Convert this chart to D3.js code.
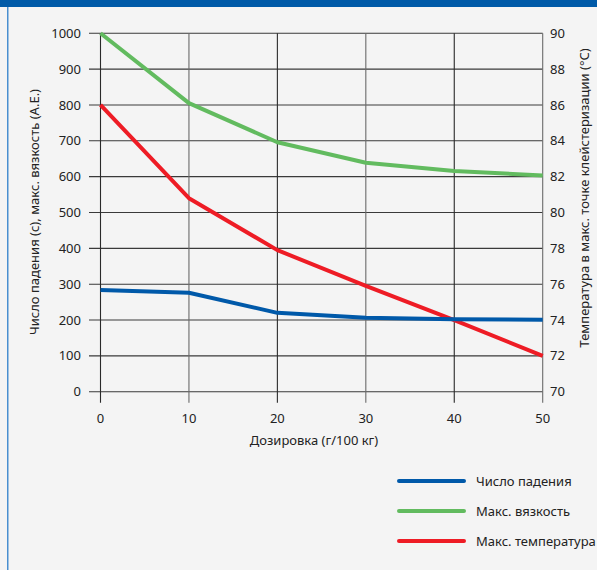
<!DOCTYPE html>
<html><head><meta charset="utf-8">
<script src="https://cdn.jsdelivr.net/npm/d3@7"></script>
<style>
html,body{margin:0;padding:0;background:#f4f4f4;}
svg{display:block;font-family:"Noto Sans",sans-serif;}
</style></head>
<body>
<svg id="chart" width="597" height="570"></svg>
<script>
const dosage = [0, 10, 20, 30, 40, 50];
const fallingNumber = [284, 276, 220, 206, 202, 201];
const maxViscosity = [1000, 805, 696, 639, 616, 603];
const maxTemperature = [86, 80.8, 77.9, 75.9, 74.0, 72.0];
const leftTicks = [0,100,200,300,400,500,600,700,800,900,1000];
const rightTicks = [70,72,74,76,78,80,82,84,86,88,90];
const xTicks = [0,10,20,30,40,50];
const seriesNames = ["Число падения", "Макс. вязкость", "Макс. температура"];
const seriesColors = ["#0059a9", "#62bb5f", "#ee1c25"];

const svg = d3.select("#chart");
svg.append("rect").attr("x",0).attr("y",0).attr("width",597).attr("height",570).attr("fill","#f4f4f4");
svg.append("rect").attr("x",0).attr("y",0).attr("width",597).attr("height",7).attr("fill","#005aa8");
svg.append("rect").attr("x",7).attr("y",7).attr("width",1.5).attr("height",563).attr("fill","#4a8fd0");

const x = d3.scaleLinear().domain([0,50]).range([100.5, 542.7]);
const yL = d3.scaleLinear().domain([0,1000]).range([391.7, 33.3]);
const yR = d3.scaleLinear().domain([70,90]).range([391.7, 33.3]);

const g = svg.append("g");
g.selectAll("line.h").data(leftTicks).join("line")
  .attr("x1", 89).attr("x2", x(50))
  .attr("y1", d=>yL(d)).attr("y2", d=>yL(d))
  .attr("stroke", "#3a3a3a").attr("stroke-width", 1.1);
g.selectAll("line.v").data(xTicks).join("line")
  .attr("x1", d=>x(d)).attr("x2", d=>x(d))
  .attr("y1", yL(1000)).attr("y2", yL(0)+11)
  .attr("stroke", (d,i)=> i%2 ? "#6a6a6a" : "#2a2a2a").attr("stroke-width", 1.1);

const tickFont = 13;
g.selectAll("text.yl").data(leftTicks).join("text")
  .attr("x", 81).attr("y", d=>yL(d)).attr("dy","0.35em")
  .attr("text-anchor","end").attr("font-size",tickFont).attr("fill","#222")
  .text(d=>d);
g.selectAll("text.yr").data(rightTicks).join("text")
  .attr("x", 550).attr("y", d=>yR(d)).attr("dy","0.35em")
  .attr("text-anchor","start").attr("font-size",tickFont).attr("fill","#222")
  .text(d=>d);
g.selectAll("text.xt").data(xTicks).join("text")
  .attr("x", d=>x(d)).attr("y", 418).attr("dy","0.35em")
  .attr("text-anchor","middle").attr("font-size",tickFont).attr("fill","#222")
  .text(d=>d);

svg.append("text").attr("x", 314).attr("y", 440).attr("dy","0.35em")
  .attr("text-anchor","middle").attr("font-size",13).attr("fill","#222")
  .text("Дозировка (г/100 кг)");
svg.append("text").attr("transform","translate(34,212) rotate(-90)").attr("dy","0.35em")
  .attr("text-anchor","middle").attr("font-size",13).attr("fill","#222")
  .text("Число падения (с), макс. вязкость (А.Е.)");
svg.append("text").attr("transform","translate(584,198) rotate(-90)").attr("dy","0.35em")
  .attr("text-anchor","middle").attr("font-size",13).attr("fill","#222")
  .text("Температура в макс. точке клейстеризации (°C)");

const curve = d3.curveLinear;
const lineL = d3.line().x((d,i)=>x(dosage[i])).y(d=>yL(d)).curve(curve);
const lineR = d3.line().x((d,i)=>x(dosage[i])).y(d=>yR(d)).curve(curve);

svg.append("path").attr("d", lineL(maxViscosity)).attr("fill","none")
  .attr("stroke", seriesColors[1]).attr("stroke-width",4).attr("stroke-linejoin","round");
svg.append("path").attr("d", lineR(maxTemperature)).attr("fill","none")
  .attr("stroke", seriesColors[2]).attr("stroke-width",4).attr("stroke-linejoin","round");
svg.append("path").attr("d", lineL(fallingNumber)).attr("fill","none")
  .attr("stroke", seriesColors[0]).attr("stroke-width",4).attr("stroke-linejoin","round");

const legY = [481, 511, 541];
const leg = svg.append("g");
seriesNames.forEach((n,i)=>{
  leg.append("line").attr("x1",399).attr("x2",464).attr("y1",legY[i]).attr("y2",legY[i])
    .attr("stroke",seriesColors[i]).attr("stroke-width",4).attr("stroke-linecap","round");
  leg.append("text").attr("x",476).attr("y",legY[i]).attr("dy","0.35em")
    .attr("font-size",13).attr("fill","#222").text(n);
});
</script>
</body></html>
